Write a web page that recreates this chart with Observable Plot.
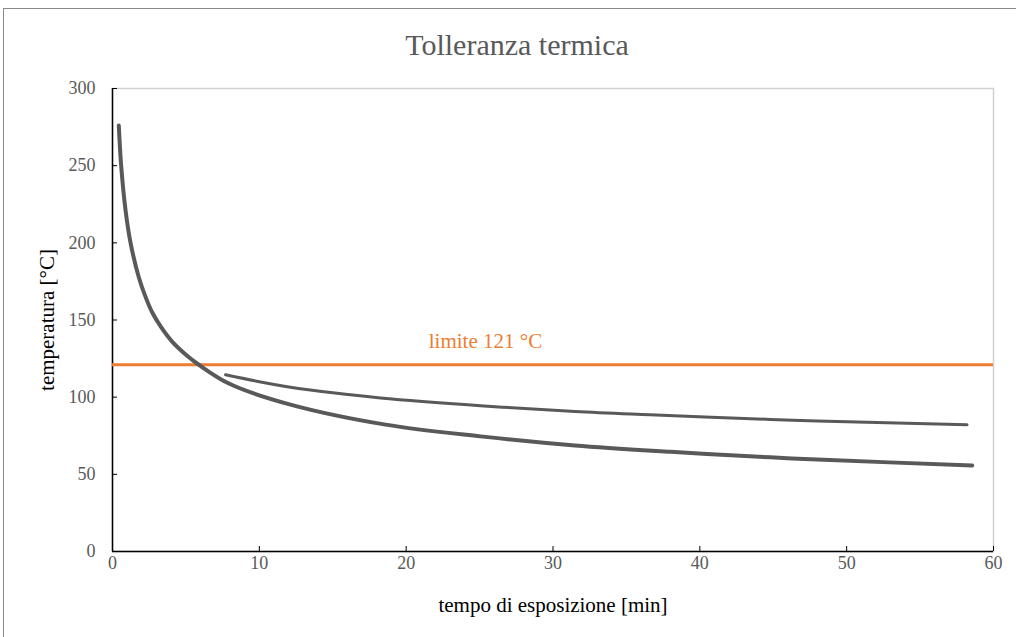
<!DOCTYPE html>
<html>
<head>
<meta charset="utf-8">
<script src="https://cdn.jsdelivr.net/npm/d3@7"></script>
<script src="https://cdn.jsdelivr.net/npm/@observablehq/plot@0.6"></script>
<style>
  html, body { margin: 0; padding: 0; background: #fff; overflow: hidden; }
  #wrap { position: relative; width: 1016px; height: 637px; }
  #border { position: absolute; left: 3px; top: 8px; width: 1100px; height: 700px;
            border-top: 1px solid #8a8a8a; border-left: 1px solid #8a8a8a; }
  #chart { position: absolute; left: 0; top: 0; }
</style>
</head>
<body>
<div id="wrap"><div id="border"></div><div id="chart"></div></div>
<script>
// Texts
const title = "Tolleranza termica";
const xTitle = "tempo di esposizione [min]";
const yTitle = "temperatura [°C]";
const limitText = "limite 121 °C";

// Tick values
const xTicks = [0, 10, 20, 30, 40, 50, 60];
const yTicks = [0, 50, 100, 150, 200, 250, 300];

// Threshold and where its label sits along the time axis
const limitValue = 121;
const limitLabelAt = 25.4;

// Lower curve: exposure time [min] vs temperature [°C]
const lowerT = [0.43, 0.59, 0.89, 1.23, 1.79, 2.25, 2.7, 3.3, 4.06, 5.0, 5.88, 8.0, 12.12, 18.6, 25.06, 31.5, 38.0, 44.8, 48.0, 58.55];
const lowerV = [276, 250, 221, 200, 177.7, 165, 155, 145.5, 136, 127.5, 121, 108.5, 95.2, 82.2, 74.6, 68.7, 64.6, 61.0, 59.6, 55.7];

// Upper curve
const upperT = [7.7, 10, 12.12, 15, 18.25, 25.06, 31.5, 36.6, 44.8, 48.0, 58.2];
const upperV = [114.5, 110, 106.4, 102.8, 99.5, 94.5, 90.7, 88.6, 85.6, 84.6, 82.1];

const lower = lowerT.map((t, i) => ({t, v: lowerV[i]}));
const upper = upperT.map((t, i) => ({t, v: upperV[i]}));

const gray = "#595959";
const orange = "#ED7D31";
const font = "Liberation Serif, Times New Roman, serif";

const chart = Plot.plot({
  width: 1016,
  height: 637,
  marginLeft: 112,
  marginRight: 23,
  marginTop: 88,
  marginBottom: 86,
  style: {fontFamily: font, background: "transparent", overflow: "visible"},
  x: {domain: [0, 60]},
  y: {domain: [0, 300]},
  marks: [
    Plot.frame({stroke: "#d0d0d0", strokeWidth: 1.5}),
    Plot.ruleX([0], {stroke: "#000", strokeWidth: 1.5}),
    Plot.ruleY([0], {stroke: "#000", strokeWidth: 1.5}),
    Plot.axisX({ticks: xTicks, tickSize: -5, tickPadding: 10, stroke: "#000", fill: gray,
                fontSize: 18, label: null}),
    Plot.axisY({ticks: yTicks, tickSize: -5, tickPadding: 22, stroke: "#000", fill: gray,
                fontSize: 18, label: null}),
    Plot.ruleY([limitValue], {stroke: orange, strokeWidth: 3}),
    Plot.text([limitText], {x: limitLabelAt, y: limitValue, text: d => d, fill: orange,
               fontSize: 21, lineAnchor: "bottom", dy: -17}),
    Plot.line(upper, {x: "t", y: "v", stroke: gray, strokeWidth: 3, curve: "catmull-rom"}),
    Plot.line(lower, {x: "t", y: "v", stroke: gray, strokeWidth: 4, curve: "catmull-rom"}),
    Plot.text([title], {text: d => d, frameAnchor: "top", lineAnchor: "middle", dy: -43, dx: -36,
                        fontSize: 30, fill: gray}),
    Plot.text([xTitle], {text: d => d, frameAnchor: "bottom", lineAnchor: "middle", dy: 54,
                         fontSize: 21, fill: "#000"}),
    Plot.text([yTitle], {text: d => d, frameAnchor: "left", textAnchor: "middle", lineAnchor: "middle",
                         dx: -65, rotate: -90, fontSize: 21, fill: "#000"})
  ]
});
document.getElementById("chart").appendChild(chart);
</script>
</body>
</html>
